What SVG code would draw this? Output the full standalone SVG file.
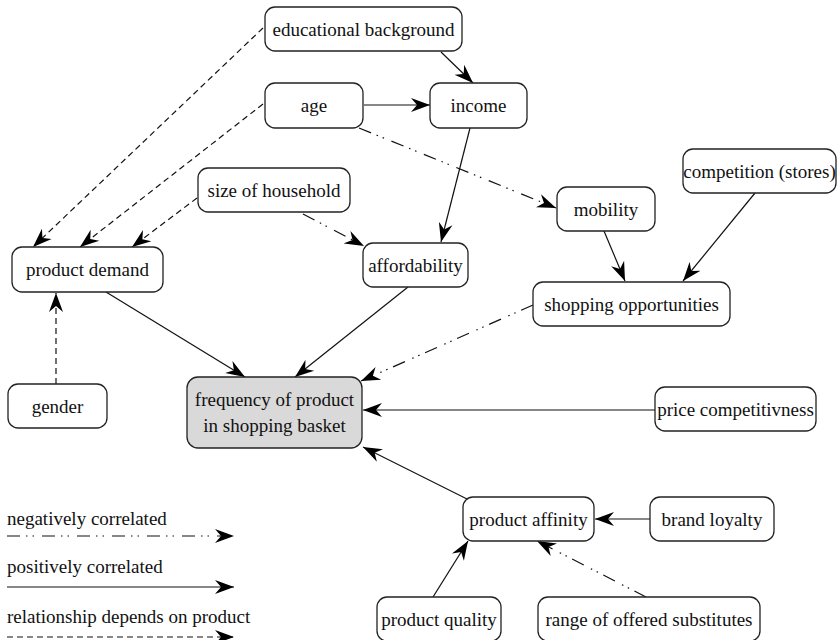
<svg xmlns="http://www.w3.org/2000/svg" width="838" height="640" viewBox="0 0 838 640">
<style>
.n rect{fill:#fff;stroke:#222;stroke-width:1.3}
.n text,.lg text{font-family:"Liberation Serif","Times New Roman",serif;font-size:19px;fill:#111}
.n text{text-anchor:middle}
#freq rect{fill:#d9d9d9}
.e line{stroke:#111;stroke-width:1.2;fill:none;marker-end:url(#ah)}
.neg{stroke-dasharray:13 6 1.5 5 1.5 8}
.dep{stroke-dasharray:6 4}
</style>
<defs>
<marker id="ah" markerUnits="userSpaceOnUse" markerWidth="20" markerHeight="16" refX="19" refY="8" orient="auto">
<path d="M0,1 L19,8 L0,15 L6,8 Z" fill="#000"/>
</marker>
</defs>
<g id="connectors" class="e">
<line class="dep" x1="263" y1="28" x2="33" y2="247"/>
<line class="dep" x1="263" y1="104" x2="80" y2="247"/>
<line class="dep" x1="197" y1="198" x2="132" y2="247"/>
<line class="dep" x1="56" y1="384" x2="56" y2="293"/>
<line x1="441" y1="52" x2="473" y2="83"/>
<line x1="364" y1="105" x2="430" y2="105"/>
<line class="neg" x1="359" y1="128" x2="556" y2="208"/>
<line x1="470" y1="128" x2="441" y2="242"/>
<line class="neg" x1="303" y1="214" x2="364" y2="246"/>
<line x1="106" y1="292" x2="245" y2="377"/>
<line x1="408" y1="287" x2="295" y2="377"/>
<line class="neg" x1="533" y1="305" x2="361" y2="381"/>
<line x1="604" y1="231" x2="625" y2="281"/>
<line x1="755" y1="193" x2="683" y2="281"/>
<line x1="655" y1="410" x2="363" y2="410"/>
<line x1="467" y1="499" x2="363" y2="447"/>
<line x1="650" y1="519" x2="595" y2="519"/>
<line x1="433" y1="597" x2="468" y2="541"/>
<line class="neg" x1="646" y1="597" x2="537" y2="541"/>
</g>
<g class="lg" id="legend">
<text x="7" y="525">negatively correlated</text>
<text x="7" y="573">positively correlated</text>
<text x="7" y="623">relationship depends on product</text>
<g class="e">
<line class="neg" x1="7" y1="536" x2="234" y2="536"/>
<line x1="7" y1="587" x2="234" y2="587"/>
<line class="dep" x1="7" y1="637" x2="234" y2="637"/>
</g>
</g>
<g id="edu" class="n"><rect x="265" y="7" width="197" height="44" rx="10"/><text x="363.5" y="35.5">educational background</text></g>
<g id="age" class="n"><rect x="265" y="83" width="98" height="45" rx="10"/><text x="314" y="112">age</text></g>
<g id="income" class="n"><rect x="430" y="83" width="97" height="45" rx="10"/><text x="478.5" y="112">income</text></g>
<g id="household" class="n"><rect x="198" y="168" width="152" height="44" rx="10"/><text x="274" y="196.5">size of household</text></g>
<g id="demand" class="n"><rect x="12" y="247" width="151" height="45" rx="10"/><text x="87.5" y="276">product demand</text></g>
<g id="afford" class="n"><rect x="363" y="243" width="105" height="44" rx="10"/><text x="415.5" y="271.5">affordability</text></g>
<g id="freq" class="n"><rect x="187" y="377" width="175" height="71" rx="11"/><text x="274.5" y="406">frequency of product</text><text x="274.5" y="432">in shopping basket</text></g>
<g id="gender" class="n"><rect x="8" y="384" width="99" height="44" rx="10"/><text x="57.5" y="412.5">gender</text></g>
<g id="mobility" class="n"><rect x="557" y="187" width="98" height="44" rx="10"/><text x="606" y="215.5">mobility</text></g>
<g id="competition" class="n"><rect x="683" y="149" width="153" height="44" rx="10"/><text x="759.5" y="177.5">competition (stores)</text></g>
<g id="shopping" class="n"><rect x="533" y="282" width="197" height="44" rx="10"/><text x="631.5" y="310.5">shopping opportunities</text></g>
<g id="price" class="n"><rect x="655" y="387" width="161" height="44" rx="10"/><text x="735.5" y="415.5">price competitivness</text></g>
<g id="affinity" class="n"><rect x="463" y="497" width="131" height="44" rx="10"/><text x="528.5" y="525.5">product affinity</text></g>
<g id="brand" class="n"><rect x="650" y="497" width="124" height="44" rx="10"/><text x="712" y="525.5">brand loyalty</text></g>
<g id="quality" class="n"><rect x="377" y="597" width="124" height="44" rx="10"/><text x="439" y="625.5">product quality</text></g>
<g id="range" class="n"><rect x="538" y="597" width="222" height="44" rx="10"/><text x="649" y="625.5">range of offered substitutes</text></g>
</svg>
